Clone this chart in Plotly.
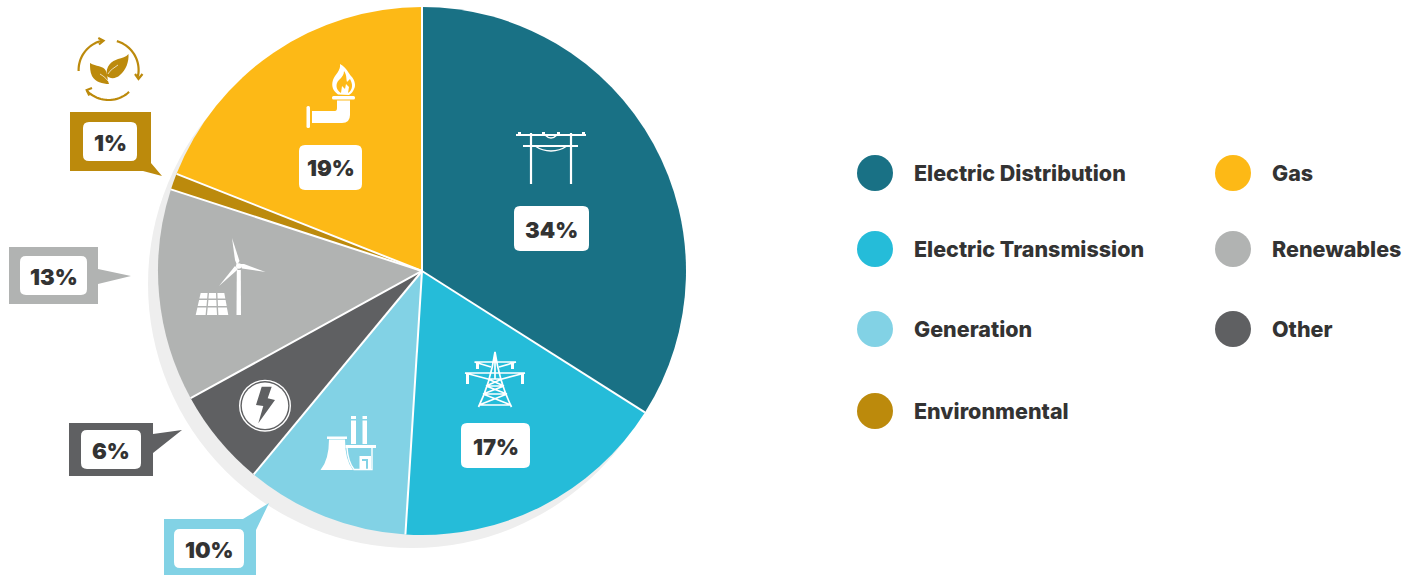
import re
import numpy as np
import plotly.graph_objects as go

# Spending share by category, clockwise from twelve o'clock
categories = ["Electric Distribution", "Electric Transmission", "Generation", "Other",
              "Renewables", "Environmental", "Gas"]
shares = [34, 17, 10, 6, 13, 1, 19]
colors = ["#197185", "#25BCD9", "#82D2E5", "#5F6062", "#B1B3B2", "#BC8A0C", "#FDB916"]

W, H = 1405, 575
CX, CY, R = 422, 271, 264
INK = "#333333"
FONT = "Inter"
WHITE = "#FFFFFF"


def px(x, y):
    return x / W, 1 - y / H


def path(spec):
    """Turn a path written in canvas pixels into paper coordinates."""
    out, is_x = [], True
    for tok in re.findall(r"[A-Za-z]|-?\d+\.?\d*", spec):
        if tok.isalpha():
            out.append(tok)
            is_x = True
        elif is_x:
            out.append(f"{float(tok) / W:.5f}")
            is_x = False
        else:
            out.append(f"{1 - float(tok) / H:.5f}")
            is_x = True
    return " ".join(out)


def rrect(x0, y0, x1, y1, r=6):
    return (f"M {x0 + r} {y0} L {x1 - r} {y0} Q {x1} {y0} {x1} {y0 + r} L {x1} {y1 - r} "
            f"Q {x1} {y1} {x1 - r} {y1} L {x0 + r} {y1} Q {x0} {y1} {x0} {y1 - r} "
            f"L {x0} {y0 + r} Q {x0} {y0} {x0 + r} {y0} Z")


def arc(cx, cy, r, a0, a1, n=24):
    """Polyline arc; angles in degrees, clockwise from north."""
    t = np.radians(np.linspace(a0, a1, n))
    pts = [f"{cx + r * np.sin(a):.2f} {cy - r * np.cos(a):.2f}" for a in t]
    return "M " + " L ".join(pts)


shapes = []


def fill(spec, color=WHITE, layer="above"):
    shapes.append(dict(type="path", xref="paper", yref="paper", path=path(spec),
                       fillcolor=color, line=dict(width=0), layer=layer))


def stroke(spec, color=WHITE, width=1.5, layer="above"):
    shapes.append(dict(type="path", xref="paper", yref="paper", path=path(spec),
                       line=dict(color=color, width=width), layer=layer))


def disc(x, y, r, color, layer="above"):
    x0, y0 = px(x - r, y + r)
    x1, y1 = px(x + r, y - r)
    shapes.append(dict(type="circle", xref="paper", yref="paper", x0=x0, y0=y0, x1=x1, y1=y1,
                       fillcolor=color, line=dict(width=0), layer=layer))


# Soft offset disc behind the pie
disc(412, 284, 264, "#EEEEEE", layer="below")

# White dividers between the slices, placed from the shares themselves
edges = np.cumsum([0] + shares[:-1]) / sum(shares) * 2 * np.pi
for a in edges:
    stroke(f"M {CX} {CY} L {CX + R * np.sin(a):.2f} {CY - R * np.cos(a):.2f}", width=2)

# Value badges: category -> white box, plus optional coloured tag with pointer
badge_boxes = {
    "Electric Distribution": (514, 206, 589, 251),
    "Gas": (299, 145, 362, 190),
    "Electric Transmission": (461, 423, 530, 468),
    "Generation": (174, 529, 244, 568),
    "Other": (81, 430, 141, 469),
    "Renewables": (20, 256, 87, 295),
    "Environmental": (83, 122, 137, 161),
}
tag_outlines = {
    "Generation": "M 164 519 L 243 519 L 269 503 L 256 530 L 256 575 L 164 575 Z",
    "Other": "M 69 423 L 153 423 L 153 434 L 182 430 L 153 453 L 153 476 L 69 476 Z",
    "Renewables": "M 9 247 L 98 247 L 98 269 L 131 276 L 98 284 L 98 304 L 9 304 Z",
    "Environmental": "M 70 112 L 151 112 L 151 163 L 162 176 L 143 171 L 70 171 Z",
}
annotations = []


def label(x, y, text, size, anchor="center", weight=800):
    ax, ay = px(x, y)
    annotations.append(dict(x=ax, y=ay, xref="paper", yref="paper", text=text, showarrow=False,
                            xanchor=anchor, yanchor="middle",
                            font=dict(family=FONT, size=size, color=INK, weight=weight)))


for name, share, color in zip(categories, shares, colors):
    if name in tag_outlines:
        fill(tag_outlines[name], color)
    x0, y0, x1, y1 = badge_boxes[name]
    fill(rrect(x0, y0, x1, y1), WHITE)
    label((x0 + x1) / 2, (y0 + y1) / 2 + 1, f"{share}%", 22, weight=900)

# Legend, two hand-placed columns
legend_slots = {
    "Electric Distribution": (875, 173),
    "Electric Transmission": (875, 249),
    "Generation": (875, 329),
    "Environmental": (875, 411),
    "Gas": (1233, 173),
    "Renewables": (1233, 249),
    "Other": (1233, 329),
}
for name, color in zip(categories, colors):
    lx, ly = legend_slots[name]
    disc(lx, ly, 18, color)
    label(lx + 36.5, ly, name, 21.5, anchor="left", weight=800)

# Utility-pole icon
stroke("M 516 135 L 586 135 M 523 146 L 578 146 M 531 133 L 531 184 M 571 133 L 571 184", width=2.2)
stroke("M 545 135 Q 551 141 557 135 M 535 146 C 541 150 546 151 551 151 C 556 151 561 150 567 146", width=1.4)
fill("M 518 132 L 521 132 L 521 135 L 518 135 Z M 542 132 L 545 132 L 545 135 L 542 135 Z "
     "M 557 132 L 560 132 L 560 135 L 557 135 Z M 582 132 L 585 132 L 585 135 L 582 135 Z")

# Gas pipe and flame icon
fill(rrect(306.5, 106, 310, 128, 1.5))
fill(rrect(332, 96, 355, 99.5, 1.5))
fill("M 312 111 L 335 111 Q 337 111 337 108 L 337 100.5 L 350 100.5 L 350 115 Q 350 123 342 123 L 312 123 Z")
fill("M 338 94.5 C 333 91 331 86 333 80 C 335 74 341 71 340 64 C 347 68 349 74 351 76 "
     "C 355 80 356 86 354 89 C 353 92 351 94 349 95 Z "
     "M 341 93 C 336 90 335 84 339 80 C 342 77 344 75 344 71 C 347 75 346 79 347 82 L 350 79 "
     "C 353 84 353 90 348 93 L 349 87 L 346 84 L 345 89 L 342 86 Z")

# Transmission-tower icon
stroke("M 495 352 C 492 372 486 392 478.5 407 M 495 352 C 498 372 504 392 511.5 407 "
       "M 474.5 362 L 516 362 M 465 373 L 525 373 "
       "M 465 373 L 488 379 M 525 373 L 502 379 M 474.5 362 L 491 367 M 516 362 L 499 367 "
       "M 488 379 L 502 379 M 486 386 L 504 386 M 483 394 L 507 394 M 479 405 L 511 405 "
       "M 488 379 L 504 386 M 502 379 L 486 386 M 486 386 L 507 394 M 504 386 L 483 394 "
       "M 483 394 L 511 405 M 507 394 L 479 405 M 495 352 L 495 379",
       width=1.7)
stroke("M 477.5 362 L 477.5 369 M 512.5 362 L 512.5 369 M 467.5 373 L 467.5 384 M 522.5 373 L 522.5 384",
       width=3)

# Power-plant icon
fill("M 351 416 L 356 416 L 356 419 L 351 419 Z M 351 420.5 L 356 420.5 L 356 444 L 351 444 Z "
     "M 362.5 416 L 367 416 L 367 419 L 362.5 419 Z M 362.5 420.5 L 367 420.5 L 367 444 L 362.5 444 Z")
fill("M 327 436.5 L 347 436.5 L 347 439 L 327 439 Z")
fill("M 329 439.5 L 345 439.5 Q 345 460 353 470 L 320.5 470 Q 329 460 329 439.5 Z")
fill("M 345.5 445 L 376 445 L 376 448 L 345.5 448 Z")
stroke("M 347 448 Q 348 462 354 469.5 L 372 469.5 L 372 448", width=1.4)
fill("M 359.5 456 L 371 456 L 371 470 L 359.5 470 Z M 362 459 L 368 459 L 368 470 L 366 470 L 366 461 L 362 461 Z")

# Lightning badge
disc(265, 405.7, 26, WHITE)
disc(265, 405.7, 24.6, "#5F6062")
disc(265, 405.7, 23.2, WHITE)
fill("M 261.7 386.7 L 271.7 386.7 L 267.7 398.3 L 275 400 L 258.3 423.3 L 263.3 406 L 256 405 Z", "#5F6062")

# Wind turbine and solar panel icon
fill("M 236.8 270 L 240.8 270 L 241 315 L 236.5 315 Z")
fill("M 232 238 L 239.5 261 L 237 265 L 235 260 Z")
fill("M 265.5 272 L 242 268.5 L 240 264 L 244 264 Z")
fill("M 219 286 L 235 266 L 238 269 L 236 271 Z")
disc(238.8, 266, 2.8, WHITE)
panel = []
for r, (y0, y1) in enumerate([(293, 298.5), (300, 306), (307.5, 315)]):
    for c in range(3):
        t0, t1 = (293 - y0) / 22, (293 - y1) / 22

        def edge(i, t):
            left = 200 - 5 * (-t)
            right = 225 + 4 * (-t)
            return left + (right - left) * i / 3
        panel.append(f"M {edge(c, t0) + 0.7:.1f} {y0} L {edge(c + 1, t0) - 0.7:.1f} {y0} "
                     f"L {edge(c + 1, t1) - 0.7:.1f} {y1} L {edge(c, t1) + 0.7:.1f} {y1} Z")
fill(" ".join(panel))

# Recycling leaves icon above the environmental tag
GOLD = "#BC8A0C"
stroke(arc(108.6, 70, 30, 268, 349), GOLD, 2.2)
stroke(arc(108.6, 70, 30, 16, 103), GOLD, 2.2)
stroke(arc(108.6, 70, 30, 137, 226), GOLD, 2.2)
stroke("M 98.3 38 L 103.5 40.7 L 99 44.5", GOLD, 2.2)
stroke("M 135 74 L 138.5 79 L 142.5 74", GOLD, 2.2)
stroke("M 92 88 L 86.7 90 L 89.3 95.5", GOLD, 2.2)
fill("M 107 76 C 105 66 112 61 118 59 C 122 58 126 57 128.5 54 C 129 62 126 70 120 75 C 116 79 110 79 107 76 Z", GOLD)
fill("M 90 63 C 96 67 103 65 106 71 C 108 75 107 80 109 84 C 103 84 95 82 92 76 C 90 72 90 67 90 63 Z", GOLD)
stroke("M 108 74 C 110 70 114 68 118 65", WHITE, 0.7)
stroke("M 108 81 C 105 77 103 76 100 74", WHITE, 0.7)

fig = go.Figure(go.Pie(
    labels=categories,
    values=shares,
    sort=False,
    direction="clockwise",
    rotation=0,
    textinfo="none",
    hoverinfo="label+percent",
    showlegend=False,
    marker=dict(colors=colors, line=dict(width=0)),
    domain=dict(x=[(CX - R) / W, (CX + R) / W], y=[1 - (CY + R) / H, 1 - (CY - R) / H]),
))
fig.update_layout(
    width=W, height=H,
    margin=dict(l=0, r=0, t=0, b=0),
    paper_bgcolor=WHITE,
    showlegend=False,
    shapes=shapes,
    annotations=annotations,
)
fig.write_html("out.html", config=dict(displayModeBar=False))
